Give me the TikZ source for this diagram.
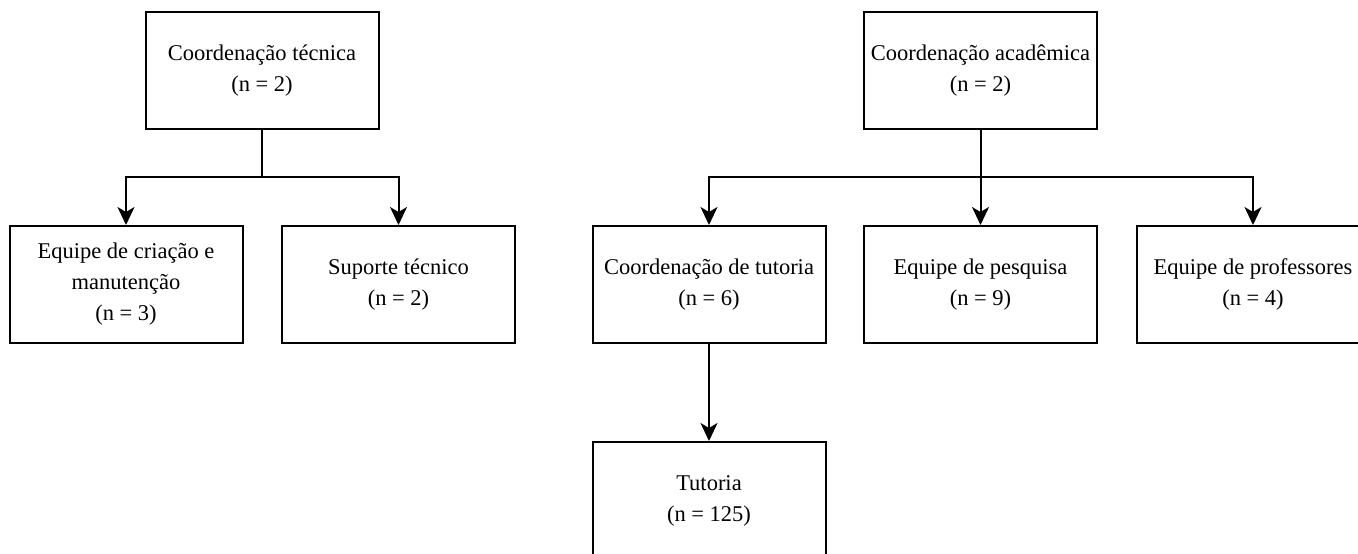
\documentclass[tikz,border=0pt]{standalone}
\usepackage{fontspec}
\setmainfont{Liberation Serif}
\usetikzlibrary{arrows.meta, positioning}

\tikzset{
  caixa/.style={draw, line width=2pt, minimum width=233pt, minimum height=117pt,
    align=center, inner sep=2pt, font=\fontsize{22.5}{31}\selectfont},
  linha/.style={line width=2pt},
  seta/.style={linha, -{Stealth[length=18pt,width=17pt,inset=5pt]}}
}

\begin{document}
\begin{tikzpicture}[x=1pt, y=-1pt]
                % area da figura
                \useasboundingbox (0,0) rectangle (1358,554);

                % coordenacao tecnica
                \node[caixa] (ctec) at (262,70.5) {Coordenação técnica\\(n = 2)};
                \node[caixa] (equipe) at (126,284.5) {Equipe de criação e\\manutenção\\(n = 3)};
                \node[caixa] (suporte) at (398.5,284.5) {Suporte técnico\\(n = 2)};

                % coordenacao academica
                \node[caixa] (cacad) at (980.5,70.5) {Coordenação acadêmica\\(n = 2)};
                \node[caixa] (ctut) at (709,284.5) {Coordenação de tutoria\\(n = 6)};
                \node[caixa] (pesq) at (980.5,284.5) {Equipe de pesquisa\\(n = 9)};
                \node[caixa] (prof) at (1253,284.5) {Equipe de professores\\(n = 4)};
                \node[caixa, below=97pt of ctut] (tut) {Tutoria\\(n = 125)};

                % ligacoes
                \coordinate (jtec) at (262,177);
                \coordinate (jacad) at (980.5,177);
                \draw[linha] (ctec.south) -- (jtec);
                \draw[seta] (jtec) -| (equipe.north);
                \draw[seta] (jtec) -| (suporte.north);
                \draw[linha] (cacad.south) -- (jacad);
                \draw[seta] (jacad) -| (ctut.north);
                \draw[seta] (jacad) -- (pesq.north);
                \draw[seta] (jacad) -| (prof.north);
                \draw[seta] (ctut.south) -- (tut.north);
            \end{tikzpicture}
\end{document}
